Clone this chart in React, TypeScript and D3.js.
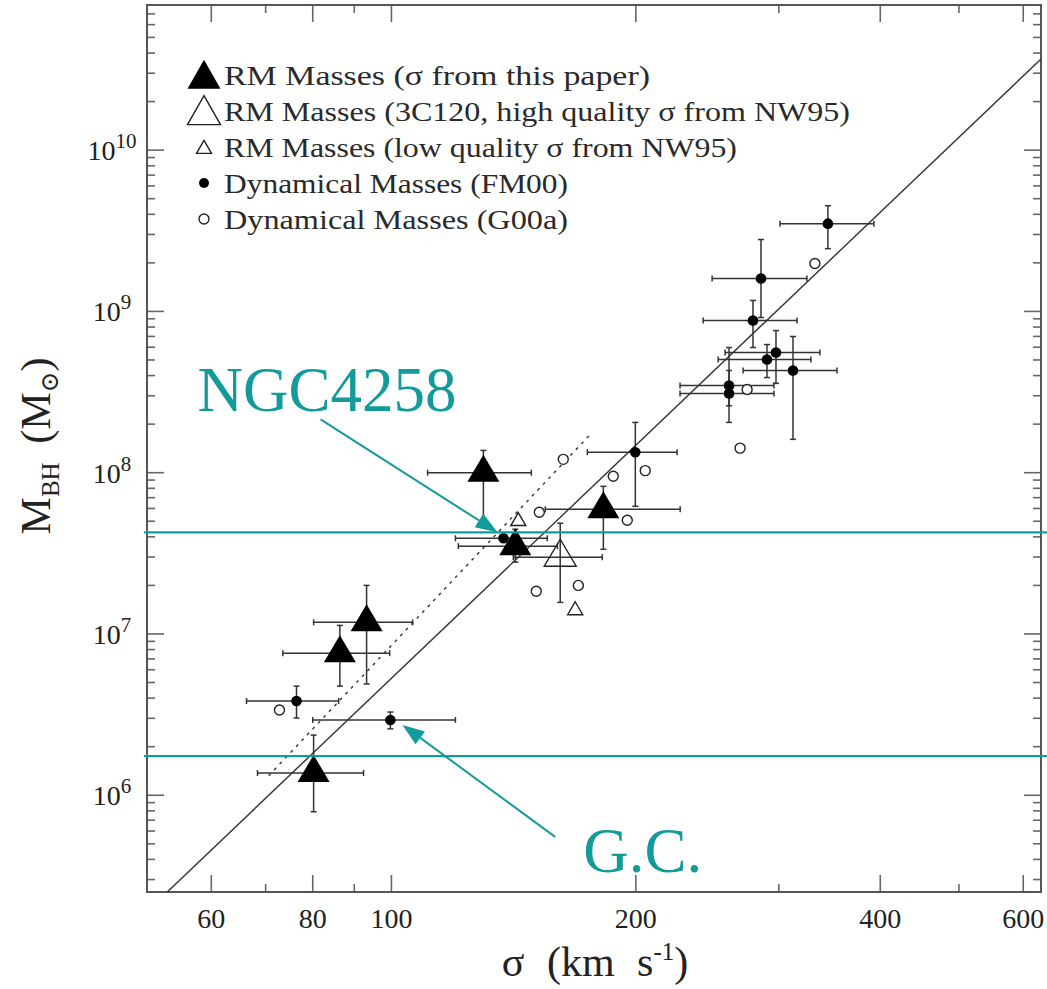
import * as d3 from 'd3';
import React, { useEffect, useRef } from 'react';

// axis domains (sigma in km/s, mass in solar masses)
const xDomain = [50, 631];
const yDomain = [Math.pow(10, 5.4), Math.pow(10, 10.9)];

const xMajorTicks = [60, 80, 100, 200, 400, 600];
const xMinorTicks = [50, 70, 90, 300, 500];
const yDecades = [6, 7, 8, 9, 10];

// RM masses, sigma from this paper
const rmThisPaper = [
  { sigma: 129.8, sLo: 110.8, sHi: 148.7, mass: 1.0e8, mLo: 4.9e7, mHi: 1.375e8 },
  { sigma: 182.4, sLo: 154.7, sHi: 226.8, mass: 5.93e7, mLo: 3.35e7, mHi: 8.23e7 },
  { sigma: 142.1, sLo: 120.9, sHi: 160.1, mass: 3.5e7, mLo: 2.79e7, mHi: 4.46e7 },
  { sigma: 93.2, sLo: 80.2, sHi: 106.2, mass: 1.18e7, mLo: 4.9e6, mHi: 2.0e7 },
  { sigma: 86.4, sLo: 73.5, sHi: 99.5, mass: 7.6e6, mLo: 4.75e6, mHi: 1.13e7 },
  { sigma: 80.2, sLo: 68.4, sHi: 92.4, mass: 1.375e6, mLo: 7.9e5, mHi: 2.36e6 },
];

// RM mass for 3C120 (high quality sigma, NW95)
const rm3C120 = [
  { sigma: 161.4, sLo: 141.3, sHi: 181.8, mass: 2.99e7, mLo: 1.57e7, mHi: 4.86e7 },
];

// RM masses, low quality sigma (NW95)
const rmLowQuality = [
  { sigma: 143.3, mass: 5.0e7 },
  { sigma: 168.4, mass: 1.4e7 },
];

// dynamical masses FM00
const dynFM00 = [
  { sigma: 344.8, sLo: 301, sHi: 392.9, mass: 3.5e9, mLo: 2.45e9, mHi: 4.52e9 },
  { sigma: 285.2, sLo: 248.3, sHi: 324.9, mass: 1.6e9, mLo: 9.16e8, mHi: 2.79e9 },
  { sigma: 278.8, sLo: 242.1, sHi: 315.9, mass: 8.78e8, mLo: 5.97e8, mHi: 1.17e9 },
  { sigma: 297.6, sLo: 257.6, sHi: 337.1, mass: 5.56e8, mLo: 3.58e8, mHi: 7.61e8 },
  { sigma: 290.1, sLo: 252.6, sHi: 328.6, mass: 5.03e8, mLo: 3.89e8, mHi: 6.23e8 },
  { sigma: 312.3, sLo: 271.1, sHi: 353.8, mass: 4.3e8, mLo: 1.61e8, mHi: 6.99e8 },
  { sigma: 260.5, sLo: 226.7, sHi: 295.9, mass: 3.47e8, mLo: 2.6e8, mHi: 5.97e8 },
  { sigma: 260.5, sLo: 226.7, sHi: 295.9, mass: 3.1e8, mLo: 2.05e8, mHi: 4.3e8 },
  { sigma: 199.7, sLo: 174.3, sHi: 224.8, mass: 1.34e8, mLo: 6.19e7, mHi: 2.05e8 },
  { sigma: 137.4, sLo: 119.9, sHi: 155.6, mass: 3.92e7, mLo: 3.78e7, mHi: 4.06e7 },
  { sigma: 76.4, sLo: 66.3, sHi: 86.1, mass: 3.84e6, mLo: 3.01e6, mHi: 4.75e6 },
  { sigma: 99.7, sLo: 80.0, sHi: 119.9, mass: 2.93e6, mLo: 2.58e6, mHi: 3.28e6 },
];

// dynamical masses G00a
const dynG00a = [
  { sigma: 332.3, mass: 1.98e9 },
  { sigma: 274.2, mass: 3.28e8 },
  { sigma: 268.8, mass: 1.42e8 },
  { sigma: 205.4, mass: 1.03e8 },
  { sigma: 187.6, mass: 9.5e7 },
  { sigma: 162.8, mass: 1.21e8 },
  { sigma: 152.1, mass: 5.68e7 },
  { sigma: 195.2, mass: 5.07e7 },
  { sigma: 150.8, mass: 1.84e7 },
  { sigma: 169.9, mass: 2.0e7 },
  { sigma: 72.8, mass: 3.38e6 },
];

// M = norm * (sigma / pivot)^slope
const fmFit = { norm: Math.pow(10, 8.17), pivot: 200, slope: 4.8 };
// dotted relation, drawn between its two end points
const dottedFit = [
  { sigma: 70.6, mass: 1.32e6 },
  { sigma: 175.8, mass: 1.73e8 },
];

// highlighted masses and their labels
const refLines = [
  { name: 'NGC4258', mass: 4.27e7 },
  { name: 'G.C.', mass: 1.75e6 },
];
const callouts = [
  { label: 'NGC4258', textAt: { sigma: 57.7, mass: 2.4e8 }, from: { sigma: 81.8, mass: 2.14e8 }, to: { sigma: 135.1, mass: 4.27e7 } },
  { label: 'G.C.', textAt: { sigma: 172.3, mass: 3.35e5 }, from: { sigma: 159.1, mass: 5.52e5 }, to: { sigma: 103.2, mass: 2.73e6 } },
];

const legendItems = [
  { kind: 'bigFilled', text: 'RM Masses (\u03c3 from this paper)', width: 426 },
  { kind: 'bigOpen', text: 'RM Masses (3C120, high quality \u03c3 from NW95)', width: 626 },
  { kind: 'smallOpen', text: 'RM Masses (low quality \u03c3 from NW95)', width: 513 },
  { kind: 'dotFilled', text: 'Dynamical Masses (FM00)', width: 344 },
  { kind: 'dotOpen', text: 'Dynamical Masses (G00a)', width: 344 },
];

const TEAL = '#139a9a';
const INK = '#333';
const SERIF = '"Liberation Serif", "DejaVu Serif", serif';

function triPath(cx, cy, w, h) {
  return `M${cx},${cy - (2 * h) / 3}L${cx + w / 2},${cy + h / 3}L${cx - w / 2},${cy + h / 3}Z`;
}

export default function App() {
  const ref = useRef(null);

  useEffect(() => {
    const svg = d3.select(ref.current);
    svg.selectAll('*').remove();

    const left = 147, right = 1041, top = 5, bottom = 892;
    const x = d3.scaleLog().domain(xDomain).range([left, right]);
    const y = d3.scaleLog().domain(yDomain).range([bottom, top]);

    svg.append('rect').attr('width', 1047).attr('height', 989).attr('fill', '#fff');

    svg.append('defs').append('clipPath').attr('id', 'plotclip')
      .append('rect').attr('x', left).attr('y', top).attr('width', right - left).attr('height', bottom - top);

    // ticks on all four sides
    const ticks = svg.append('g').attr('stroke', '#666').attr('stroke-width', 1.6);
    const xt = [...xMajorTicks.map(v => ({ v, len: 17 })), ...xMinorTicks.map(v => ({ v, len: 8 }))];
    xt.forEach(t => {
      ticks.append('line').attr('x1', x(t.v)).attr('x2', x(t.v)).attr('y1', bottom).attr('y2', bottom - t.len);
      ticks.append('line').attr('x1', x(t.v)).attr('x2', x(t.v)).attr('y1', top).attr('y2', top + t.len);
    });
    const yt = [];
    for (let e = 5; e <= 10; e++) {
      for (let k = 1; k <= 9; k++) {
        const v = k * Math.pow(10, e);
        if (v < yDomain[0] || v > yDomain[1]) continue;
        yt.push({ v, len: k === 1 ? 17 : 8 });
      }
    }
    yt.forEach(t => {
      ticks.append('line').attr('x1', left).attr('x2', left + t.len).attr('y1', y(t.v)).attr('y2', y(t.v));
      ticks.append('line').attr('x1', right).attr('x2', right - t.len).attr('y1', y(t.v)).attr('y2', y(t.v));
    });

    svg.append('rect')
      .attr('x', left).attr('y', top).attr('width', right - left).attr('height', bottom - top)
      .attr('fill', 'none').attr('stroke', '#555').attr('stroke-width', 2);

    // tick labels
    svg.append('g').selectAll('text').data(xMajorTicks).enter().append('text')
      .attr('x', d => x(d)).attr('y', 928)
      .attr('text-anchor', 'middle')
      .attr('font-family', SERIF).attr('font-size', 28).attr('fill', '#222')
      .text(d => d);

    const yl = svg.append('g').selectAll('text').data(yDecades).enter().append('text')
      .attr('x', 112).attr('y', d => y(Math.pow(10, d)) + 10)
      .attr('text-anchor', 'middle')
      .attr('font-family', SERIF).attr('font-size', 28).attr('fill', '#222');
    yl.append('tspan').text('10');
    yl.append('tspan').attr('dy', -12).attr('font-size', 21).text(d => d);

    // axis titles
    const xt2 = svg.append('text').attr('x', 595).attr('y', 976).attr('text-anchor', 'middle')
      .attr('font-family', SERIF).attr('font-size', 42).attr('word-spacing', 12).attr('fill', '#222');
    xt2.append('tspan').text('\u03c3 (km s');
    xt2.append('tspan').attr('dy', -16).attr('font-size', 25).text('-1');
    xt2.append('tspan').attr('dy', 16).text(')');

    const yt2 = svg.append('text').attr('transform', 'translate(50,446) rotate(-90)').attr('text-anchor', 'middle')
      .attr('font-family', SERIF).attr('font-size', 42).attr('word-spacing', 8).attr('fill', '#222');
    yt2.append('tspan').text('M');
    yt2.append('tspan').attr('dy', 9).attr('font-size', 25).text('BH');
    yt2.append('tspan').attr('dy', -9).text(' (M');
    yt2.append('tspan').attr('dy', 8).attr('font-size', 25).text('\u2299');
    yt2.append('tspan').attr('dy', -8).text(')');

    // relations
    const plot = svg.append('g').attr('clip-path', 'url(#plotclip)');
    const fitLine = d3.line().x(d => x(d)).y(d => y(fmFit.norm * Math.pow(d / fmFit.pivot, fmFit.slope)));
    plot.append('path').attr('d', fitLine(xDomain)).attr('fill', 'none').attr('stroke', INK).attr('stroke-width', 1.4);
    plot.append('path')
      .attr('d', d3.line().x(d => x(d.sigma)).y(d => y(d.mass))(dottedFit))
      .attr('fill', 'none').attr('stroke', INK).attr('stroke-width', 1.4).attr('stroke-dasharray', '3 5');

    // error bars
    const cap = 3;
    const bars = plot.append('g').attr('stroke', INK).attr('stroke-width', 1.5);
    [...rmThisPaper, ...rm3C120, ...dynFM00].forEach(d => {
      const cx = x(d.sigma), cy = y(d.mass);
      bars.append('line').attr('x1', x(d.sLo)).attr('x2', x(d.sHi)).attr('y1', cy).attr('y2', cy);
      bars.append('line').attr('x1', x(d.sLo)).attr('x2', x(d.sLo)).attr('y1', cy - cap).attr('y2', cy + cap);
      bars.append('line').attr('x1', x(d.sHi)).attr('x2', x(d.sHi)).attr('y1', cy - cap).attr('y2', cy + cap);
      bars.append('line').attr('x1', cx).attr('x2', cx).attr('y1', y(d.mLo)).attr('y2', y(d.mHi));
      bars.append('line').attr('x1', cx - cap).attr('x2', cx + cap).attr('y1', y(d.mLo)).attr('y2', y(d.mLo));
      bars.append('line').attr('x1', cx - cap).attr('x2', cx + cap).attr('y1', y(d.mHi)).attr('y2', y(d.mHi));
    });

    // markers
    plot.append('g').selectAll('circle').data(dynG00a).enter().append('circle')
      .attr('cx', d => x(d.sigma)).attr('cy', d => y(d.mass)).attr('r', 5)
      .attr('fill', '#fff').attr('stroke', '#222').attr('stroke-width', 1.4);
    plot.append('g').selectAll('circle').data(dynFM00).enter().append('circle')
      .attr('cx', d => x(d.sigma)).attr('cy', d => y(d.mass)).attr('r', 5.3)
      .attr('fill', '#000');
    plot.append('g').selectAll('path').data(rmLowQuality).enter().append('path')
      .attr('d', d => triPath(x(d.sigma), y(d.mass), 15, 13))
      .attr('fill', '#fff').attr('stroke', '#222').attr('stroke-width', 1.4);
    plot.append('g').selectAll('path').data(rm3C120).enter().append('path')
      .attr('d', d => triPath(x(d.sigma), y(d.mass), 32, 27))
      .attr('fill', 'none').attr('stroke', '#222').attr('stroke-width', 1.4);
    plot.append('g').selectAll('path').data(rmThisPaper).enter().append('path')
      .attr('d', d => triPath(x(d.sigma), y(d.mass), 32, 27))
      .attr('fill', '#000');

    // legend
    const lg = svg.append('g');
    legendItems.forEach((item, i) => {
      const cy = 75 + i * 36;
      const cx = 204;
      if (item.kind === 'bigFilled') lg.append('path').attr('d', triPath(cx, cy + 4, 33, 29)).attr('fill', '#000');
      if (item.kind === 'bigOpen') lg.append('path').attr('d', triPath(cx, cy + 4, 33, 29)).attr('fill', 'none').attr('stroke', '#222').attr('stroke-width', 1.4);
      if (item.kind === 'smallOpen') lg.append('path').attr('d', triPath(cx, cy + 2, 15, 13)).attr('fill', 'none').attr('stroke', '#222').attr('stroke-width', 1.4);
      if (item.kind === 'dotFilled') lg.append('circle').attr('cx', cx).attr('cy', cy).attr('r', 5).attr('fill', '#000');
      if (item.kind === 'dotOpen') lg.append('circle').attr('cx', cx).attr('cy', cy).attr('r', 5).attr('fill', '#fff').attr('stroke', '#222').attr('stroke-width', 1.4);
      lg.append('text').attr('x', 224).attr('y', cy + 10)
        .attr('font-family', SERIF).attr('font-size', 28).attr('fill', '#2a2a2a')
        .attr('textLength', item.width).attr('lengthAdjust', 'spacingAndGlyphs')
        .text(item.text);
    });

    // highlighted masses
    svg.append('g').selectAll('line').data(refLines).enter().append('line')
      .attr('x1', 144).attr('x2', 1047).attr('y1', d => y(d.mass)).attr('y2', d => y(d.mass))
      .attr('stroke', TEAL).attr('stroke-width', 2.2);

    callouts.forEach(c => {
      const x0 = x(c.from.sigma), y0 = y(c.from.mass);
      const x1 = x(c.to.sigma), y1 = y(c.to.mass);
      const ang = Math.atan2(y1 - y0, x1 - x0);
      const hl = 22, hw = 8;
      const bx = x1 - hl * Math.cos(ang), by = y1 - hl * Math.sin(ang);
      svg.append('line').attr('x1', x0).attr('y1', y0).attr('x2', bx).attr('y2', by)
        .attr('stroke', TEAL).attr('stroke-width', 2);
      const px = -Math.sin(ang) * hw, py = Math.cos(ang) * hw;
      svg.append('path')
        .attr('d', `M${x1},${y1}L${bx + px},${by + py}L${bx - px},${by - py}Z`)
        .attr('fill', TEAL);
      svg.append('text').attr('x', x(c.textAt.sigma)).attr('y', y(c.textAt.mass))
        .attr('font-family', SERIF).attr('font-size', 63).attr('fill', TEAL)
        .text(c.label);
    });
  }, []);

  return <svg ref={ref} width={1047} height={989} style={{ position: 'absolute', left: 0, top: 0 }} />;
}
